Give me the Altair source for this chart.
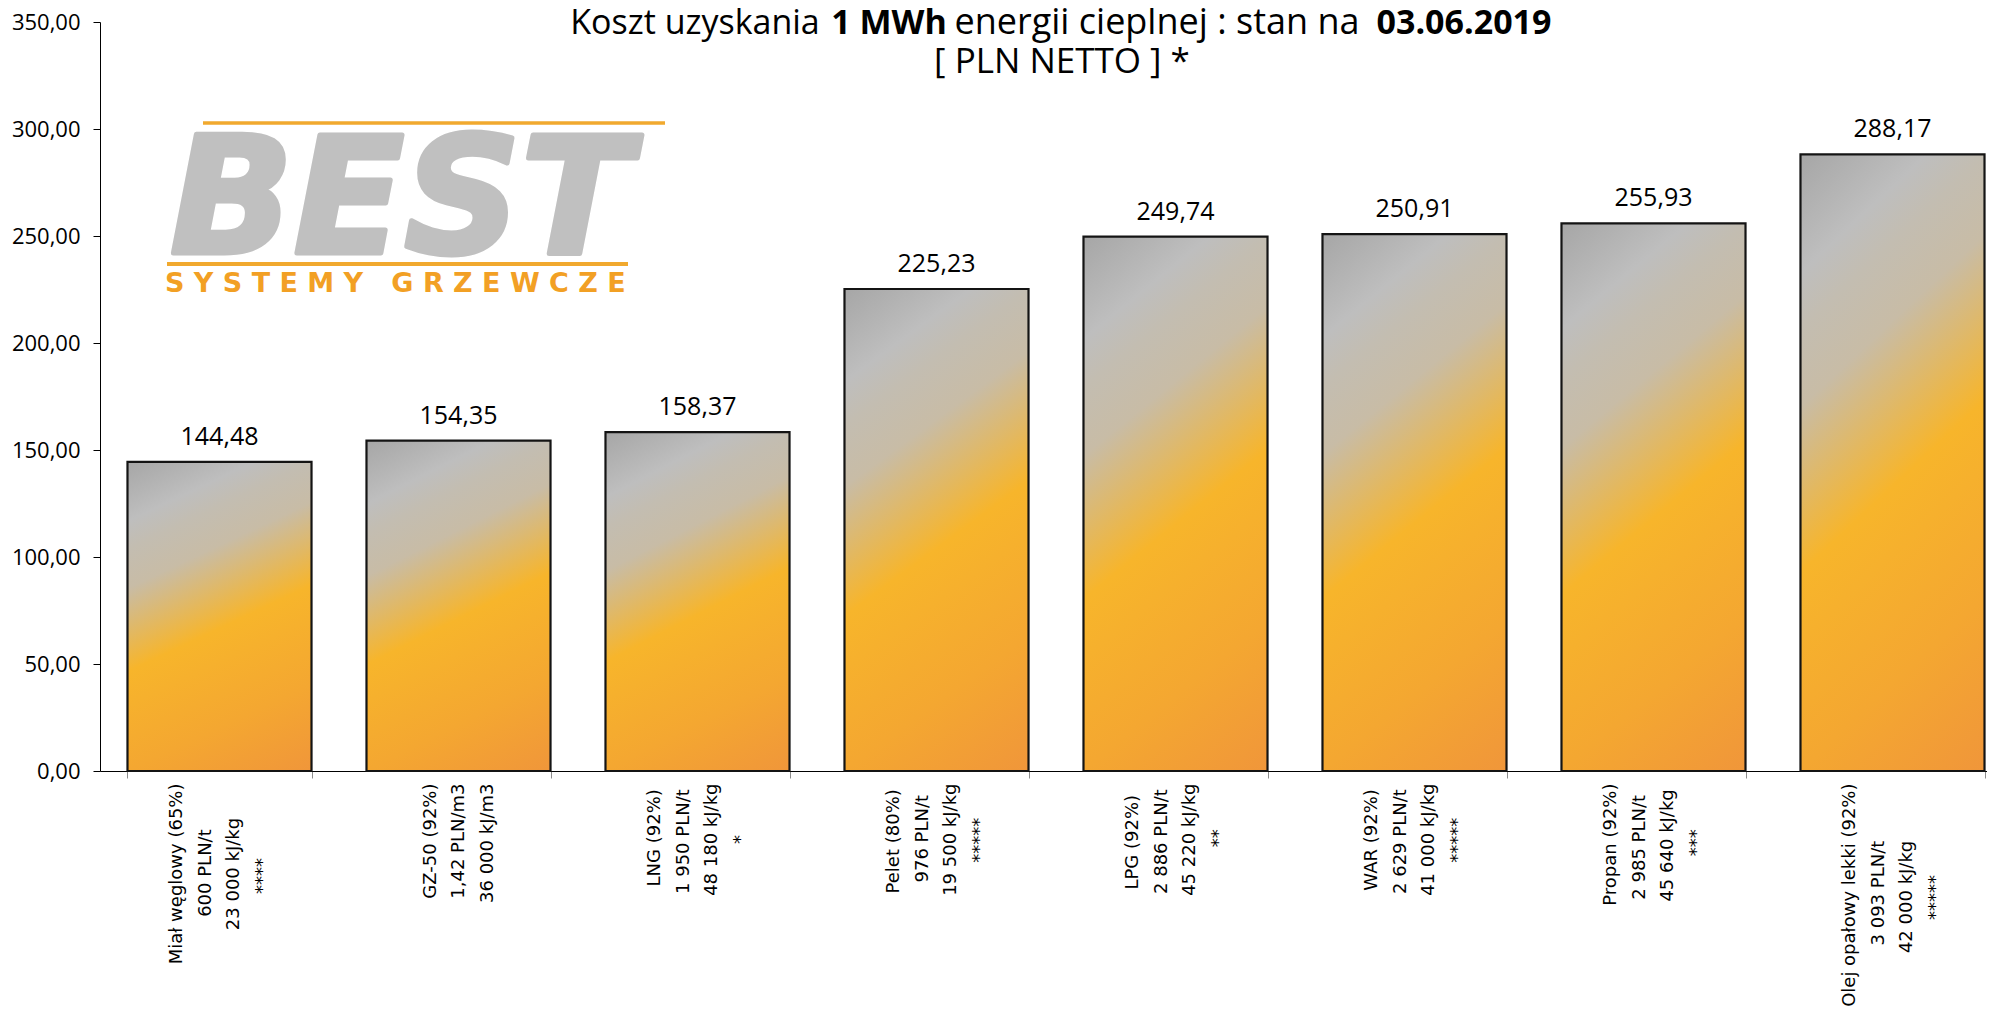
import altair as alt
import pandas as pd

# ---------------- data ----------------
fuel_lines = [
    ["Miał węglowy (65%)", "600 PLN/t", "23 000 kJ/kg", "****"],
    ["GZ-50 (92%)", "1,42 PLN/m3", "36 000 kJ/m3"],
    ["LNG (92%)", "1 950 PLN/t", "48 180 kJ/kg", "*"],
    ["Pelet (80%)", "976 PLN/t", "19 500 kJ/kg", "*****"],
    ["LPG (92%)", "2 886 PLN/t", "45 220 kJ/kg", "**"],
    ["WAR (92%)", "2 629 PLN/t", "41 000 kJ/kg", "*****"],
    ["Propan (92%)", "2 985 PLN/t", "45 640 kJ/kg", "***"],
    ["Olej opałowy lekki (92%)", "3 093 PLN/t", "42 000 kJ/kg", "*****"],
]
cost_values = [144.48, 154.35, 158.37, 225.23, 249.74, 250.91, 255.93, 288.17]
y_tick_values = [0, 50, 100, 150, 200, 250, 300, 350]

title_regular = ["Koszt uzyskania", "energii cieplnej : stan na"]
title_bold = ["1 MWh", "03.06.2019"]
title_line2 = "[ PLN NETTO ] *"
logo_word = "BEST"
logo_tagline = "SYSTEMY GRZEWCZE"

# ---------------- layout ----------------
PLOT_W, PLOT_H = 1887, 749      # visible plot width (page is 1995 wide)
BAND_RANGE = 1912               # 8 bands of ~239 px; last band runs past the page edge
LABEL_FONT_SIZE = 18
LINE_H = 28.5

# approximate DejaVu Sans advance widths (em) used to centre label lines
DV = {' ': 0.318, '(': 0.390, ')': 0.390, '%': 0.950, '*': 0.500, ',': 0.318,
      '-': 0.361, '.': 0.318, '/': 0.337,
      'A': 0.684, 'G': 0.775, 'J': 0.295, 'L': 0.557, 'M': 0.863, 'N': 0.748,
      'O': 0.787, 'P': 0.603, 'R': 0.695, 'W': 0.989, 'Z': 0.685,
      'a': 0.613, 'c': 0.550, 'e': 0.615, 'ę': 0.615, 'g': 0.635, 'i': 0.278,
      'j': 0.278, 'k': 0.579, 'l': 0.278, 'ł': 0.320, 'm': 0.974, 'n': 0.634,
      'o': 0.612, 'p': 0.635, 'r': 0.411, 's': 0.521, 't': 0.392, 'w': 0.818,
      'y': 0.592}
for d in "0123456789":
    DV[d] = 0.636


def text_w(s):
    return sum(DV.get(ch, 0.6) for ch in s)


def centred_label(lines):
    # pad shorter lines (at their top end) so every line is centred on the longest one
    longest = max(text_w(l) for l in lines)
    out = []
    for l in lines:
        n = int(round((longest - text_w(l)) / 2 / 0.318))
        out.append(l + ("\u00a0" * n + "\u200b" if n > 0 else ""))
    return "\n".join(out)


df = pd.DataFrame({
    "label": [centred_label(l) for l in fuel_lines],
    "value": cost_values,
})

bar_fill = alt.LinearGradient(
    gradient="linear", x1=0, y1=0, x2=0.332, y2=1.187,
    stops=[
        alt.GradientStop(color="#a6a6a6", offset=0.0),
        alt.GradientStop(color="#bebebe", offset=0.15),
        alt.GradientStop(color="#c3bdb1", offset=0.22),
        alt.GradientStop(color="#c8bca6", offset=0.32),
        alt.GradientStop(color="#f7b52b", offset=0.53),
        alt.GradientStop(color="#f4a731", offset=0.78),
        alt.GradientStop(color="#f0963a", offset=1.0),
    ],
)

x_enc = alt.X(
    "label:N", sort=None, title=None,
    scale=alt.Scale(paddingInner=0.23, paddingOuter=0.115, range=[0, BAND_RANGE]),
    axis=alt.Axis(
        labelExpr="split(datum.label, '\\n')",
        labelAngle=270, labelAlign="right", labelBaseline="middle",
        labelFont="DejaVu Sans", labelFontSize=LABEL_FONT_SIZE,
        labelLineHeight=LINE_H, labelPadding=5, labelLimit=0,
        labelOffset={
            "condition": {"test": "length(split(datum.value, '\\n')) == 3",
                          "value": -LINE_H},
            "value": -1.5 * LINE_H,
        },
        labelOverlap=False, labelBound=False, labelColor="#000000",
        tickBand="extent", tickSize=7, tickColor="#8c8c8c", tickWidth=1,
        domainColor="#000000", domainWidth=1, grid=False,
    ),
)
y_enc = alt.Y(
    "value:Q", title=None,
    scale=alt.Scale(domain=[0, 350], nice=False),
    axis=alt.Axis(
        values=y_tick_values,
        labelExpr="replace(format(datum.value, '.2f'), '.', ',')",
        labelFont="Open Sans", labelFontSize=22, labelColor="#000000",
        labelPadding=13, tickSize=7, tickColor="#000000",
        domainColor="#000000", domainWidth=1, grid=False,
    ),
)

bars = alt.Chart(df).mark_bar(
    fill=bar_fill, stroke="#141414", strokeWidth=2.2
).encode(x=x_enc, y=y_enc)

value_labels = alt.Chart(df).transform_calculate(
    txt="replace(format(datum.value, '.2f'), '.', ',')"
).mark_text(
    align="center", baseline="alphabetic", dy=-17,
    font="Open Sans", fontSize=25, color="#000000"
).encode(x=alt.X("label:N", sort=None), y="value:Q", text="txt:N")

one = pd.DataFrame({"k": [0]})


def txt(s, x, y, size, weight="normal", align="left", font="Open Sans",
        color="#000000", style="normal", stroke_w=0):
    props = dict(align=align, baseline="alphabetic", font=font, fontSize=size,
                 fontWeight=weight, fontStyle=style, color=color)
    if stroke_w:
        props.update(stroke=color, strokeWidth=stroke_w, strokeJoin="round")
    return alt.Chart(one).mark_text(**props).encode(
        x=alt.value(x), y=alt.value(y), text=alt.value(s))


def hrule(x0, x1, y, w, color):
    return alt.Chart(one).mark_rule(color=color, strokeWidth=w).encode(
        x=alt.value(x0), x2=alt.value(x1), y=alt.value(y))


title_layers = [
    txt(title_regular[0], 595, 12, 34, align="center"),
    txt(title_bold[0], 789, 12, 34, "bold", align="center"),
    txt(title_regular[1], 1057, 12, 36, align="center"),
    txt(title_bold[1], 1364, 12, 34, "bold", align="center"),
    txt(title_line2, 962, 51, 35, align="center"),
]

tagline_spaced = "\u00a0".join(logo_tagline.replace(" ", "\u00a0"))
logo_layers = [
    hrule(103, 565, 101, 3.5, "#f1a92e"),
    txt(logo_word, 70, 231, 162, "bold", font="DejaVu Sans",
        color="#c0c0c0", style="italic", stroke_w=5),
    hrule(67, 528, 242, 4, "#f1a92e"),
    txt(tagline_spaced, 65, 270, 27, "bold", font="DejaVu Sans",
        color="#f2a024"),
]

chart = alt.layer(bars, value_labels, *logo_layers, *title_layers).properties(
    width=PLOT_W, height=PLOT_H,
    autosize=alt.AutoSizeParams(type="none"),
    padding={"left": 92, "top": 14, "right": 0, "bottom": 236},
    background="#ffffff",
).configure_view(stroke=None)

chart.save("out.html", embed_options={"renderer": "svg", "actions": False})
